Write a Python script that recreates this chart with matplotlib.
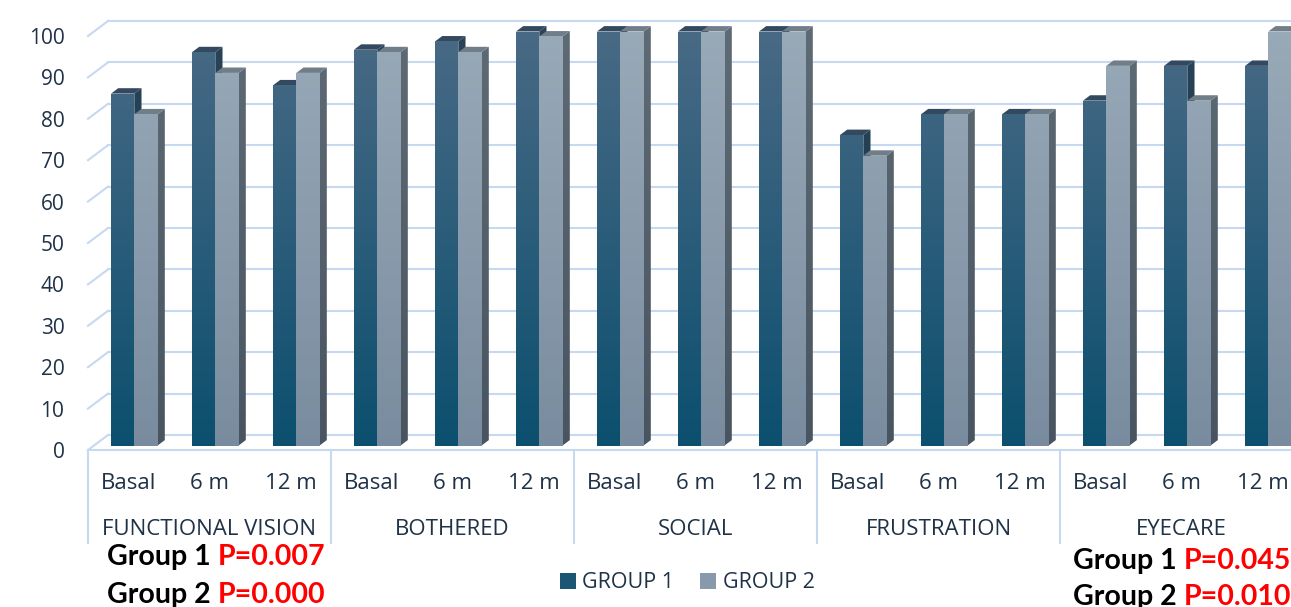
import numpy as np
import matplotlib
matplotlib.use("Agg")
import matplotlib.pyplot as plt
from matplotlib.colors import LinearSegmentedColormap
from matplotlib.patches import Polygon, Patch

# ---- data -------------------------------------------------------------
domains = ["FUNCTIONAL VISION", "BOTHERED", "SOCIAL", "FRUSTRATION", "EYECARE"]
timepoints = ["Basal", "6 m", "12 m"]
group1 = [85, 95, 87, 95.6, 97.6, 100, 100, 100, 100, 75, 80, 80, 83.3, 91.7, 91.7]
group2 = [80, 90, 90, 95.0, 95.0, 98.8, 100, 100, 100, 70, 80, 80, 91.7, 83.3, 100]
series_names = ["GROUP 1", "GROUP 2"]
yticks = list(range(0, 101, 10))
pvals_left = [("Group 1 ", "P=0.007"), ("Group 2 ", "P=0.000")]
pvals_right = [("Group 1 ", "P=0.045"), ("Group 2 ", "P=0.010")]

# ---- style --------------------------------------------------------------
W_PX, H_PX = 1291, 607
TEXT = "#1f3248"
GRID = "#c6d9f0"
LABEL_FONT = ["Open Sans", "DejaVu Sans"]
P_FONT = ["Lato", "DejaVu Sans"]

GRAD_TOP = 110.0   # value at which the colour ramps end
front_cmaps = [
    LinearSegmentedColormap.from_list("g1f", ["#0b4f6e", "#4e6c87"]),
    LinearSegmentedColormap.from_list("g2f", ["#798c9f", "#9bacba"]),
]
side_cmaps = [
    LinearSegmentedColormap.from_list("g1s", ["#12384d", "#2c4458"]),
    LinearSegmentedColormap.from_list("g2s", ["#48545f", "#606c76"]),
]
top_colors = ["#32495f", "#707e8a"]
legend_colors = ["#1d5575", "#8799ab"]

fig = plt.figure(figsize=(W_PX / 100, H_PX / 100), dpi=100)
n = len(group1)
# plot area: category slots span px 88..1303, values 0..100 span px 450..36
ax = fig.add_axes([88 / W_PX, (H_PX - 450) / H_PX, 1215 / W_PX, 414 / H_PX])
ax.set_xlim(0, n)
ax.set_ylim(0, 100)
px_x = n / 1215.0          # data units per pixel (x)
px_y = 100 / 414.0         # data units per pixel (y)

# oblique depth of the 3D box
DX, DY = 20 * px_x, 15 * px_y
D_FRONT, D_BACK = 0.30, 0.66

for s in ax.spines.values():
    s.set_visible(False)
ax.set_xticks([])
ax.set_yticks(yticks)
ax.tick_params(axis="y", length=0, pad=17, labelsize=15, labelcolor=TEXT)
for lab in ax.get_yticklabels():
    lab.set_fontfamily(LABEL_FONT)

# walls: gridlines on the back wall and diagonals on the side wall
for v in yticks:
    ax.plot([0, DX], [v, v + DY], color=GRID, lw=1.5, clip_on=False, zorder=1)
    ax.plot([DX, n + DX], [v + DY, v + DY], color=GRID, lw=1.5, clip_on=False, zorder=1)
ax.plot([0, n], [0, 0], color=GRID, lw=1.5, clip_on=False, zorder=1)

# category axis separators and labels
for g in range(len(domains) + 1):
    ax.plot([3 * g, 3 * g], [0, -22.5], color=GRID, lw=1.5, clip_on=False, zorder=1)
for i in range(n):
    ax.text(i + 0.5, -8.2, timepoints[i % 3], ha="center", va="center",
            fontsize=16, color=TEXT, family=LABEL_FONT, clip_on=False)
for g, name in enumerate(domains):
    ax.text(3 * g + 1.5, -19.1, name, ha="center", va="center",
            fontsize=16, color=TEXT, family=LABEL_FONT, clip_on=False)

grad = np.linspace(0, 1, 256).reshape(-1, 1)


def shaded(poly_pts, cmap, z):
    poly = Polygon(poly_pts, closed=True, facecolor="none", edgecolor="none",
                   transform=ax.transData)
    ax.add_patch(poly)
    im = ax.imshow(grad, cmap=cmap, origin="lower", aspect="auto",
                   extent=[0, n + 1, 0, GRAD_TOP], zorder=z)
    im.set_clip_box(fig.bbox)
    im.set_clip_path(poly)


bar_w = 23.3 * px_x
left0 = 0.21
fdx, fdy = D_FRONT * DX, D_FRONT * DY
bdx, bdy = D_BACK * DX, D_BACK * DY

for i in range(n):
    for k, vals in enumerate((group1, group2)):
        v = vals[i]
        x0 = i + left0 + k * bar_w
        x1 = x0 + bar_w
        z = 3 + 2 * k
        # side face
        shaded([(x1 + fdx, fdy), (x1 + bdx, bdy), (x1 + bdx, v + bdy), (x1 + fdx, v + fdy)],
               side_cmaps[k], z)
        # top face
        ax.add_patch(Polygon([(x0 + fdx, v + fdy), (x1 + fdx, v + fdy),
                              (x1 + bdx, v + bdy), (x0 + bdx, v + bdy)],
                             closed=True, facecolor=top_colors[k], edgecolor="none",
                             zorder=z, clip_on=False))
        # front face
        shaded([(x0 + fdx, fdy), (x1 + fdx, fdy), (x1 + fdx, v + fdy), (x0 + fdx, v + fdy)],
               front_cmaps[k], z + 1)

ax.set_xlim(0, n)
ax.set_ylim(0, 100)

# legend
handles = [Patch(facecolor=c, edgecolor="none") for c in legend_colors]
fig.legend(handles, series_names, loc="center", bbox_to_anchor=(687 / W_PX, 1 - 583 / H_PX),
           ncol=2, frameon=False, handlelength=0.75, handleheight=0.75, handletextpad=0.3,
           columnspacing=1.2, prop={"family": LABEL_FONT, "size": 15.5}, labelcolor=TEXT)


def ptext(x_px, base_px, parts):
    t = fig.text(x_px / W_PX, 1 - base_px / H_PX, parts[0], color="black",
                 fontsize=20.5, fontweight="bold", family=P_FONT, va="baseline")
    ax.annotate(parts[1], xy=(1, 0), xycoords=t, va="bottom", ha="left",
                color="#ff0000", fontsize=20.5, fontweight="bold", family=P_FONT,
                annotation_clip=False)


ptext(107, 565, pvals_left[0])
ptext(107, 603, pvals_left[1])
ptext(1073, 569, pvals_right[0])
ptext(1073, 605, pvals_right[1])

fig.savefig("out.png", dpi=100)
